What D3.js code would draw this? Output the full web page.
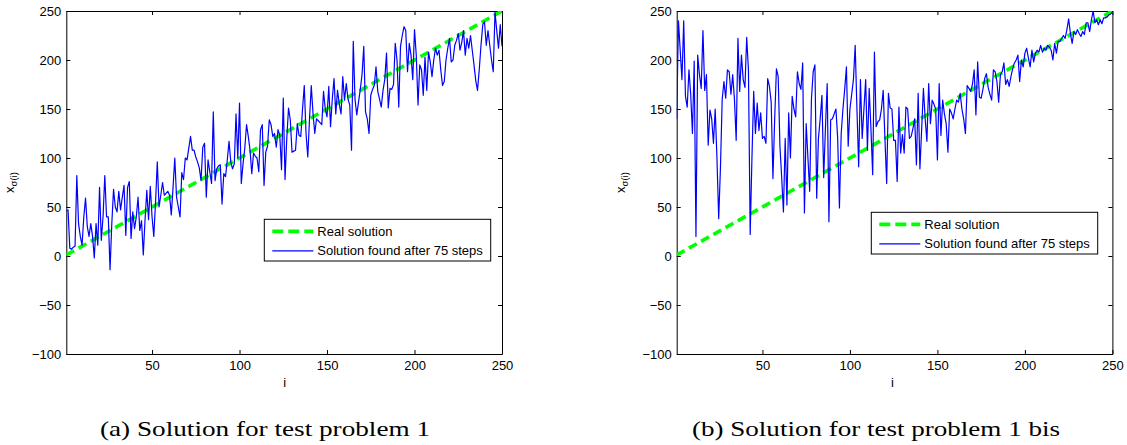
<!DOCTYPE html>
<html><head><meta charset="utf-8">
<script src="https://cdn.jsdelivr.net/npm/d3@7"></script>
<style>
body{margin:0;background:#fff}
svg text{font-family:"Liberation Sans",Arial,Helvetica,sans-serif;fill:#000}
</style>
</head><body>
<svg id="chart" width="1127" height="445"></svg>
<script>
const xTicks = [50, 100, 150, 200, 250];
const yTicks = [-100, -50, 0, 50, 100, 150, 200, 250];
const xDomain = [1, 250];
const yDomain = [-100, 250];
const realX = [1, 250];
const realY = [1, 250];
const legendLabels = ["Real solution", "Solution found after 75 steps"];
const captions = ["(a) Solution for test problem 1", "(b) Solution for test problem 1 bis"];
const xLabel = "i";

const foundA = [
46,47,8,7,9,10,82,33,20,11,
40,59,30,20,33,20,-2,33,11,70,
16,40,82,40,40,-14,33,68,50,45,
66,47,60,72,21,70,76,18,45,28,
40,60,26,36,1,37,67,37,71,40,
20,55,96,50,62,75,62,64,66,62,
42,70,100,60,50,40,85,78,100,98,
110,122,108,108,101,96,90,77,111,115,
60,98,86,74,147,77,89,92,93,53,
84,81,98,117,96,89,94,145,100,156,
74,94,110,134,122,108,84,105,102,100,
86,129,134,72,106,112,139,134,122,125,
111,129,123,88,161,78,120,151,139,106,
107,108,135,123,122,150,174,125,101,140,
174,145,125,140,138,136,134,168,150,142,
173,132,160,181,145,169,155,145,183,159,
176,160,154,108,219,160,144,157,170,185,
214,147,140,125,164,170,174,193,168,160,
152,169,180,207,151,171,170,175,217,200,
152,214,225,234,230,188,217,205,180,231,
205,154,195,190,164,203,169,208,198,183,
200,212,205,210,190,174,178,200,212,222,
198,200,215,220,227,210,218,230,205,222,
212,225,210,195,179,169,190,215,236,239,
215,230,215,200,188,249,230,212,236,214
];

const foundB = [
140,240,210,180,240,163,152,190,165,125,
199,20,205,185,171,230,169,185,113,149,
140,115,150,100,38,90,160,178,161,190,
188,165,185,160,118,222,168,205,180,172,
223,190,22,100,168,125,156,128,146,120,
122,115,181,173,157,79,140,191,183,112,
80,45,120,52,146,100,163,150,142,188,
176,170,197,44,135,100,66,160,188,195,
59,120,140,164,80,130,176,35,139,140,
145,150,120,49,125,150,170,193,112,150,
165,180,215,150,91,180,120,150,180,108,
171,130,83,208,132,137,139,150,169,120,
74,166,151,150,118,118,76,152,105,124,
105,152,150,120,122,130,140,93,166,89,
130,171,140,117,176,135,159,155,150,98,
176,123,159,145,135,106,150,146,140,150,
159,157,166,150,140,125,174,171,168,175,
190,144,198,162,161,170,181,186,172,165,
159,190,188,178,157,185,188,197,175,180,
173,183,191,197,200,205,178,200,193,207,
212,202,193,210,198,207,210,208,215,208,
212,210,215,213,210,200,217,207,219,219,
222,225,222,231,242,227,217,229,226,231,
227,224,229,226,238,238,229,241,250,238,
241,236,241,237,243,243,244,246,247,249
];

const svg = d3.select("#chart");
const W = 435.7, H = 343;
const panels = [
  {left: 66.3, top: 11, data: foundA, caption: captions[0], capX: 265, capW: 330, legend: {x: 264.3, y: 219.3, w: 226.4, h: 41.7}},
  {left: 676.7, top: 11, data: foundB, caption: captions[1], capX: 876, capW: 368, legend: {x: 871.3, y: 212.3, w: 226.4, h: 41.7}}
];

panels.forEach((p, pi) => {
  const g = svg.append("g").attr("transform", `translate(${p.left},${p.top})`);
  const x = d3.scaleLinear().domain(xDomain).range([0, W]);
  const y = d3.scaleLinear().domain(yDomain).range([H, 0]);

  const clipId = "clip" + pi;
  svg.append("clipPath").attr("id", clipId).append("rect")
    .attr("x", p.left).attr("y", p.top).attr("width", W).attr("height", H);

  const plot = svg.append("g").attr("clip-path", `url(#${clipId})`)
    .append("g").attr("transform", `translate(${p.left},${p.top})`);

  // real solution
  plot.append("path")
    .datum(realX.map((d, i) => [d, realY[i]]))
    .attr("fill", "none").attr("stroke", "#00ff00").attr("stroke-width", 3.6)
    .attr("stroke-dasharray", "9,5")
    .attr("d", d3.line().x(d => x(d[0])).y(d => y(d[1])));

  // found solution
  plot.append("path")
    .datum(p.data.map((v, i) => [i + 1, v]))
    .attr("fill", "none").attr("stroke", "#0000ff").attr("stroke-width", 1.2)
    .attr("stroke-linejoin", "round")
    .attr("d", d3.line().x(d => x(d[0])).y(d => y(d[1])));

  // axes
  const fmt = d => d < 0 ? "\u2212" + Math.abs(d) : String(d);
  const ax = g.append("g").attr("transform", `translate(0,${H})`)
    .call(d3.axisBottom(x).tickValues(xTicks).tickSizeInner(-4).tickSizeOuter(0).tickPadding(7).tickFormat(fmt));
  const ay = g.append("g")
    .call(d3.axisLeft(y).tickValues(yTicks).tickSizeInner(-4).tickSizeOuter(0).tickPadding(5).tickFormat(fmt));
  const at = g.append("g")
    .call(d3.axisTop(x).tickValues(xTicks).tickSizeInner(-4).tickSizeOuter(0).tickFormat(""));
  const ar = g.append("g").attr("transform", `translate(${W},0)`)
    .call(d3.axisRight(y).tickValues(yTicks).tickSizeInner(-4).tickSizeOuter(0).tickFormat(""));
  [ax, ay, at, ar].forEach(a => {
    a.selectAll("path,line").attr("stroke", "#000").attr("stroke-width", 1);
    a.selectAll("text").attr("font-size", 13).attr("font-family", '"Liberation Sans",Arial,sans-serif').attr("fill", "#000");
  });

  // x label
  g.append("text").attr("x", W / 2 + (pi === 0 ? 0.5 : -2)).attr("y", H + 33)
    .attr("text-anchor", "middle").attr("font-size", 13).text(xLabel);

  // y label
  const yl = g.append("text")
    .attr("transform", `translate(${-52},${H / 2}) rotate(-90)`)
    .attr("text-anchor", "middle").attr("font-size", 13);
  yl.append("tspan").text("x");
  yl.append("tspan").attr("font-size", 9.5).attr("dy", 3).text("\u03c3(i)");

  // legend
  const L = p.legend;
  const lg = svg.append("g").attr("transform", `translate(${L.x},${L.y})`);
  lg.append("rect").attr("width", L.w).attr("height", L.h)
    .attr("fill", "#fff").attr("stroke", "#000").attr("stroke-width", 1);
  const rows = [L.h * 0.29, L.h * 0.755];
  lg.append("line").attr("x1", 8).attr("x2", 49).attr("y1", rows[0]).attr("y2", rows[0])
    .attr("stroke", "#00ff00").attr("stroke-width", 3.6).attr("stroke-dasharray", "11,5");
  lg.append("line").attr("x1", 8).attr("x2", 49).attr("y1", rows[1]).attr("y2", rows[1])
    .attr("stroke", "#0000ff").attr("stroke-width", 1.2);
  legendLabels.forEach((t, i) => {
    lg.append("text").attr("x", 53).attr("y", rows[i]).attr("dy", "0.35em")
      .attr("font-size", 13).text(t);
  });

  // caption
  svg.append("text").attr("x", p.capX - p.capW / 2).attr("y", 436)
    .attr("font-size", 22)
    .attr("textLength", p.capW).attr("lengthAdjust", "spacingAndGlyphs")
    .style("font-family", '"Liberation Serif","Times New Roman",serif')
    .text(p.caption);
});
</script>
</body></html>
